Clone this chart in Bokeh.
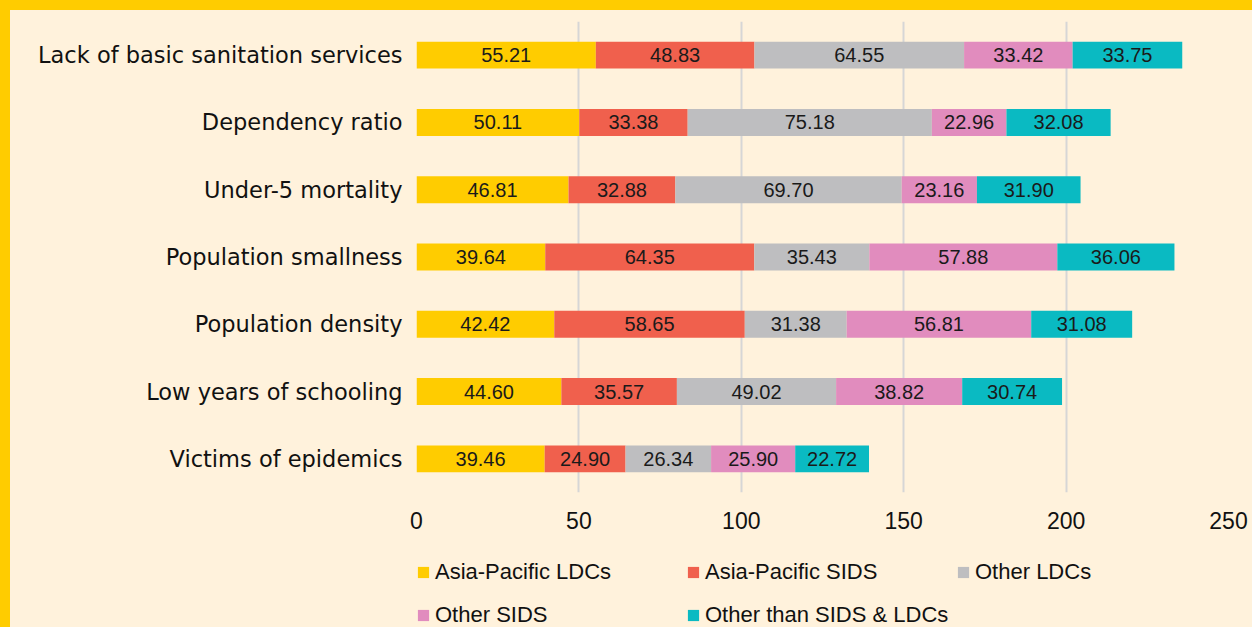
from bokeh.plotting import figure
from bokeh.layouts import column
from bokeh.models import (ColumnDataSource, FactorRange, Range1d, Legend, LegendItem,
                          FixedTicker, GlobalInlineStyleSheet)
from bokeh.core.properties import value
from bokeh.embed import file_html
from bokeh.resources import INLINE

categories = [
    "Lack of basic sanitation services",
    "Dependency ratio",
    "Under-5 mortality",
    "Population smallness",
    "Population density",
    "Low years of schooling",
    "Victims of epidemics",
]
series = ["Asia-Pacific LDCs", "Asia-Pacific SIDS", "Other LDCs", "Other SIDS", "Other than SIDS & LDCs"]
ap_ldcs = [55.21, 50.11, 46.81, 39.64, 42.42, 44.60, 39.46]
ap_sids = [48.83, 33.38, 32.88, 64.35, 58.65, 35.57, 24.90]
other_ldcs = [64.55, 75.18, 69.70, 35.43, 31.38, 49.02, 26.34]
other_sids = [33.42, 22.96, 23.16, 57.88, 56.81, 38.82, 25.90]
other_than = [33.75, 32.08, 31.90, 36.06, 31.08, 30.74, 22.72]
x_ticks = [0, 50, 100, 150, 200, 250]

colors = ["#FFCC00", "#F0604D", "#BEBEC0", "#E18CBE", "#0ABAC2"]
CREAM = "#FFF2DC"
FONT = "Liberation Sans"

all_vals = [ap_ldcs, ap_sids, other_ldcs, other_sids, other_than]
keys = ["s0", "s1", "s2", "s3", "s4"]
data = {"cat": categories}
for k, v in zip(keys, all_vals):
    data[k] = v
src = ColumnDataSource(data)

# label positions (segment midpoints)
lx, ly, lt = [], [], []
for i, c in enumerate(categories):
    left = 0.0
    for v in all_vals:
        val = v[i]
        lx.append(left + val / 2)
        ly.append(c)
        lt.append(f"{val:.2f}")
        left += val
lsrc = ColumnDataSource(dict(x=lx, y=ly, t=lt))

W = 1242
p = figure(width=W, height=522,
           y_range=FactorRange(factors=categories[::-1]),
           x_range=Range1d(0, 250),
           output_backend="svg", toolbar_location=None,
           min_border_left=406, min_border_right=24, min_border_top=11, min_border_bottom=40,
           background_fill_color=CREAM, border_fill_color=CREAM, outline_line_color=None)

rs = p.hbar_stack(keys, y="cat", height=0.4, color=colors, line_color=None, source=src)

p.text(x="x", y="y", text="t", source=lsrc, text_align="center", text_baseline="middle",
       text_font=value(FONT), text_font_size="20px", text_color="#1a1a1a")

p.ygrid.grid_line_color = None
p.xgrid.grid_line_color = "#D6D6D6"
p.xgrid.grid_line_width = 2
p.xaxis.ticker = FixedTicker(ticks=x_ticks)

for ax in (p.xaxis, p.yaxis):
    ax.axis_line_color = None
    ax.major_tick_line_color = None
    ax.minor_tick_line_color = None
    ax.major_label_text_color = "#111111"
p.yaxis.major_label_text_font = "DejaVu Sans"
p.yaxis.major_label_text_font_size = "22.5px"
p.yaxis.major_label_standoff = 8
p.xaxis.major_label_text_font = FONT
p.xaxis.major_label_text_font_size = "23px"
p.xaxis.major_label_standoff = 13

# legend strip (separate figure so the legend is not clipped); its stacked bars
# use the same data but are hidden, only their legend swatches are drawn
lg = figure(width=W, height=95, x_range=Range1d(0, 250),
            y_range=FactorRange(factors=categories[::-1]),
            output_backend="svg", toolbar_location=None,
            x_axis_location=None, y_axis_location=None,
            min_border_left=406, min_border_right=24, min_border_top=0, min_border_bottom=0,
            background_fill_color=CREAM, border_fill_color=CREAM, outline_line_color=None)
lg.grid.visible = False
legend_renderers = lg.hbar_stack(keys, y="cat", height=0.4, color=colors, line_color=None, source=src)
for r in legend_renderers:
    r.visible = False

common = dict(orientation="horizontal", click_policy="none",
              background_fill_alpha=0, border_line_color=None, padding=0, margin=0,
              spacing=17, label_height=26, label_width=234, glyph_width=14, glyph_height=14,
              label_standoff=5, label_text_font=FONT, label_text_font_size="22px",
              label_text_color="#111111", inactive_fill_alpha=0)
items = [LegendItem(label=s, renderers=[r]) for s, r in zip(series, legend_renderers)]
lg.add_layout(Legend(items=items[:3], location=(0, 42), **common), "center")
lg.add_layout(Legend(items=items[3:], location=(0, -1), **common), "center")

p.stylesheets = [GlobalInlineStyleSheet(
    css="html{background:#FFCC00;overflow:hidden;} body{margin:10px 0 0 10px;background:#FFF2DC;}")]

layout = column(p, lg, spacing=0)
open("out.html", "w").write(file_html(layout, INLINE))
